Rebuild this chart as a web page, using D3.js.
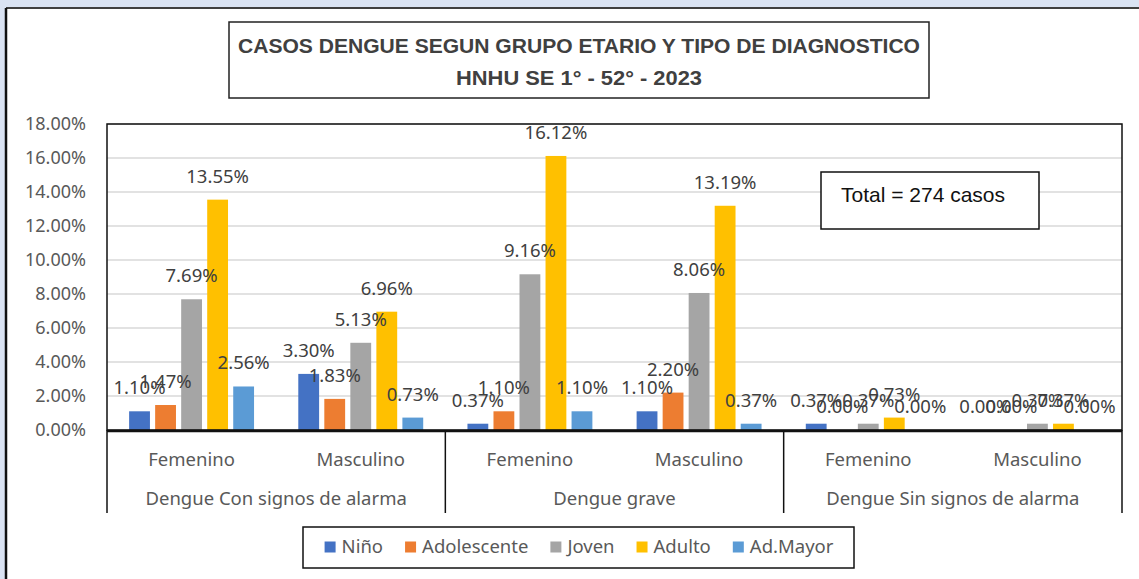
<!DOCTYPE html>
<html lang="es">
<head>
  <meta charset="UTF-8" />
  <title>Casos dengue segun grupo etario</title>
  <script src="https://d3js.org/d3.v7.min.js"></script>
  <style>
    body { margin: 0; background: #dae3f3; }
    svg { display: block; }
    .lbl { font-family: "Noto Sans", sans-serif; font-size: 18.5px; fill: #404040; }
    .tick-lbl { font-family: "Noto Sans", sans-serif; font-size: 18px; fill: #595959; }
  </style>
</head>
<body>
<div id="chart"></div>
<script>
  // categories and values
  var groups = ['Dengue Con signos de alarma', 'Dengue grave', 'Dengue Sin signos de alarma'];
  var sexes = ['Femenino', 'Masculino'];
  var series = ['Niño', 'Adolescente', 'Joven', 'Adulto', 'Ad.Mayor'];
  var colors = ['#4472c4', '#ed7d31', '#a5a5a5', '#ffc000', '#5b9bd5'];
  // order: ConF, ConM, GraveF, GraveM, SinF, SinM
  var nino        = [1.10, 3.30, 0.37, 1.10, 0.37, 0.00];
  var adolescente = [1.47, 1.83, 1.10, 2.20, 0.00, 0.00];
  var joven       = [7.69, 5.13, 9.16, 8.06, 0.37, 0.37];
  var adulto      = [13.55, 6.96, 16.12, 13.19, 0.73, 0.37];
  var adMayor     = [2.56, 0.73, 1.10, 0.37, 0.00, 0.00];
  var yTicks = [0, 2, 4, 6, 8, 10, 12, 14, 16, 18];
  var titleLines = ['CASOS DENGUE SEGUN GRUPO ETARIO Y TIPO DE DIAGNOSTICO', 'HNHU SE 1° - 52° - 2023'];
  var totalText = 'Total = 274 casos';

  var seriesValues = [nino, adolescente, joven, adulto, adMayor];

  var W = 1139, H = 579;
  var pLeft = 107, pRight = 1122, pTop = 124, pBottom = 430;

  var svg = d3.select('#chart').append('svg').attr('width', W).attr('height', H);

  // white panel
  svg.append('rect').attr('x', 6).attr('y', 8).attr('width', W).attr('height', H)
    .attr('fill', '#fff');
  svg.append('line').attr('x1', 6).attr('x2', W).attr('y1', 8).attr('y2', 8)
    .attr('stroke', '#404040').attr('stroke-width', 2);
  svg.append('line').attr('x1', 6).attr('x2', 6).attr('y1', 8).attr('y2', H)
    .attr('stroke', '#111').attr('stroke-width', 2.5);

  // title box
  svg.append('rect').attr('x', 229).attr('y', 22).attr('width', 700).attr('height', 76)
    .attr('fill', '#fff').attr('stroke', '#222').attr('stroke-width', 1.5);
  var titleY = [53, 85], titleW = [682, 246];
  titleLines.forEach(function(t, i) {
    svg.append('text').attr('x', 579).attr('y', titleY[i])
      .attr('text-anchor', 'middle')
      .attr('textLength', titleW[i]).attr('lengthAdjust', 'spacingAndGlyphs')
      .style('font-family', '"Liberation Sans Narrow", "Liberation Sans", sans-serif')
      .style('font-weight', 'bold').style('font-size', '21px').style('fill', '#404040')
      .text(t);
  });

  // scales
  var keys = [];
  groups.forEach(function(g) { sexes.forEach(function(s) { keys.push(g + '|' + s); }); });
  var x0 = d3.scaleBand().domain(keys).range([pLeft, pRight]);
  var x1 = d3.scaleBand().domain(series).range([0, x0.bandwidth()])
    .paddingInner(0.2).paddingOuter(0.85);
  var y = d3.scaleLinear().domain([0, 18]).range([pBottom, pTop]);

  // gridlines
  svg.append('g').selectAll('line').data(yTicks.slice(1)).join('line')
    .attr('x1', pLeft).attr('x2', pRight)
    .attr('y1', function(d) { return y(d); }).attr('y2', function(d) { return y(d); })
    .attr('stroke', '#d9d9d9').attr('stroke-width', 1.5);

  // y axis labels
  svg.append('g').selectAll('text').data(yTicks).join('text')
    .attr('class', 'tick-lbl')
    .attr('x', 86).attr('y', function(d) { return y(d); }).attr('dy', '0.36em')
    .attr('text-anchor', 'end')
    .text(function(d) { return d.toFixed(2) + '%'; });

  // bars
  var rows = [];
  keys.forEach(function(k, i) {
    series.forEach(function(s, j) { rows.push({ key: k, s: s, c: colors[j], v: seriesValues[j][i] }); });
  });
  svg.append('g').selectAll('rect').data(rows).join('rect')
    .attr('x', function(d) { return x0(d.key) + x1(d.s); })
    .attr('y', function(d) { return y(d.v); })
    .attr('width', x1.bandwidth())
    .attr('height', function(d) { return pBottom - y(d.v); })
    .attr('fill', function(d) { return d.c; });

  // plot border
  svg.append('rect').attr('x', pLeft).attr('y', pTop).attr('width', pRight - pLeft).attr('height', pBottom - pTop)
    .attr('fill', 'none').attr('stroke', '#111').attr('stroke-width', 1.5);
  svg.append('line').attr('x1', pLeft).attr('x2', pRight).attr('y1', pBottom + 1).attr('y2', pBottom + 1)
    .attr('stroke', '#111').attr('stroke-width', 2.5);

  // data labels
  svg.append('g').selectAll('text').data(rows).join('text')
    .attr('class', 'lbl')
    .attr('x', function(d) { return x0(d.key) + x1(d.s) + x1.bandwidth() / 2; })
    .attr('y', function(d) { return y(d.v) - 17; })
    .attr('text-anchor', 'middle')
    .text(function(d) { return d.v.toFixed(2) + '%'; });

  // category axis (two levels)
  var gw = (pRight - pLeft) / groups.length;
  var seps = d3.range(groups.length + 1).map(function(i) { return pLeft + i * gw; });
  svg.append('g').selectAll('line').data(seps).join('line')
    .attr('x1', function(d) { return d; }).attr('x2', function(d) { return d; })
    .attr('y1', pBottom).attr('y2', 513)
    .attr('stroke', '#111').attr('stroke-width', 1.5);
  svg.append('g').selectAll('text').data(keys).join('text')
    .attr('class', 'tick-lbl').style('font-size', '18.5px')
    .attr('x', function(d) { return x0(d) + x0.bandwidth() / 2; })
    .attr('y', 466).attr('text-anchor', 'middle')
    .text(function(d) { return d.split('|')[1]; });
  svg.append('g').selectAll('text').data(groups).join('text')
    .attr('class', 'tick-lbl').style('font-size', '18.5px')
    .attr('x', function(d, i) { return pLeft + (i + 0.5) * gw; })
    .attr('y', 505).attr('text-anchor', 'middle')
    .text(function(d) { return d; });

  // total box
  svg.append('rect').attr('x', 821).attr('y', 172).attr('width', 218).attr('height', 57)
    .attr('fill', '#fff').attr('stroke', '#111').attr('stroke-width', 1.5);
  svg.append('text').attr('x', 841).attr('y', 202)
    .style('font-family', '"Liberation Sans", Arial, sans-serif').style('font-size', '21px').style('fill', '#111')
    .text(totalText);

  // legend
  svg.append('rect').attr('x', 303).attr('y', 527).attr('width', 551).attr('height', 41)
    .attr('fill', '#fff').attr('stroke', '#111').attr('stroke-width', 1.5);
  var leg = svg.append('g');
  var cx = 0;
  series.forEach(function(s, i) {
    var g = leg.append('g').attr('transform', 'translate(' + cx + ',0)');
    g.append('rect').attr('x', 0).attr('y', -5.5).attr('width', 11).attr('height', 11).attr('fill', colors[i]);
    var t = g.append('text').attr('class', 'tick-lbl').style('font-size', '18.5px')
      .attr('x', 17).attr('y', 0).attr('dy', '0.35em').text(s);
    cx += 17 + t.node().getComputedTextLength() + 22;
  });
  var legW = cx - 22;
  leg.attr('transform', 'translate(' + (579 - legW / 2) + ',547)');
</script>
</body>
</html>
